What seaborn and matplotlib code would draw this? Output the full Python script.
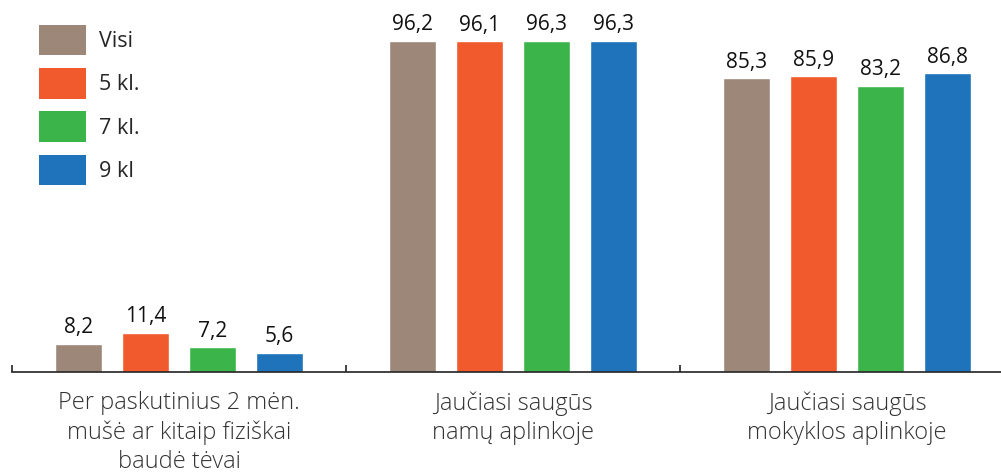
import matplotlib
matplotlib.use("Agg")
import matplotlib.pyplot as plt
import seaborn as sns
import pandas as pd
from matplotlib.ticker import FixedLocator

categories = ["Per paskutinius 2 mėn.\nmušė ar kitaip fiziškai\nbaudė tėvai",
              "Jaučiasi saugūs\nnamų aplinkoje",
              "Jaučiasi saugūs\nmokyklos aplinkoje"]
groups = ["Visi", "5 kl.", "7 kl.", "9 kl"]
visi = [8.2, 96.2, 85.3]
kl5 = [11.4, 96.1, 85.9]
kl7 = [7.2, 96.3, 83.2]
kl9 = [5.6, 96.3, 86.8]
colors = ["#9c8778", "#f05a2c", "#3bb54a", "#1e73bb"]

rows = []
for g, vals in zip(groups, [visi, kl5, kl7, kl9]):
    for c, v in zip(categories, vals):
        rows.append({"cat": c, "grp": g, "val": v})
df = pd.DataFrame(rows)

sns.set_theme(style="white")
plt.rcParams['font.family'] = ['Open Sans', 'DejaVu Sans']

fig = plt.figure(figsize=(10.01, 4.75), dpi=100)
ax = fig.add_axes([12/1001, (475-372)/475, 1-12/1001, 372/475])

sns.barplot(data=df, x="cat", y="val", hue="grp", order=categories,
            hue_order=groups, palette=colors, width=0.8, gap=0.3,
            saturation=1, ax=ax, errorbar=None)

for cont in ax.containers:
    ax.bar_label(cont, labels=[f"{v:.1f}".replace(".", ",") for v in cont.datavalues],
                 padding=4, fontsize=15, color="#111111")

ax.set_xlim(-0.5, 2.461)
ax.set_ylim(0, 108.1)
for s in ["top", "right", "left"]:
    ax.spines[s].set_visible(False)
ax.spines["bottom"].set_color("#222222")
ax.spines["bottom"].set_linewidth(1.2)
ax.set_yticks([])
ax.set_xlabel("")
ax.set_ylabel("")

ax.xaxis.set_major_locator(FixedLocator([-0.5, 0.5, 1.5]))
ax.xaxis.set_minor_locator(FixedLocator([0, 1, 2]))
ax.set_xticklabels([], minor=False)
ax.set_xticklabels(categories, minor=True, fontsize=17, fontweight="light",
                   color="#333333", linespacing=1.28)
ax.tick_params(axis="x", which="major", direction="in", length=5, width=1.2,
               color="#222222", bottom=True)
ax.tick_params(axis="x", which="minor", length=0, pad=14, bottom=True)

leg = ax.legend(loc="upper left", bbox_to_anchor=(39/1001, 1-25/475),
                bbox_transform=fig.transFigure, frameon=False, borderpad=0,
                fontsize=15.5, handlelength=2.2, handleheight=1.79,
                labelspacing=0.6, handletextpad=0.6, borderaxespad=0)
for h in leg.legend_handles:
    h.set_edgecolor("none")

fig.savefig("out.png", dpi=100)
